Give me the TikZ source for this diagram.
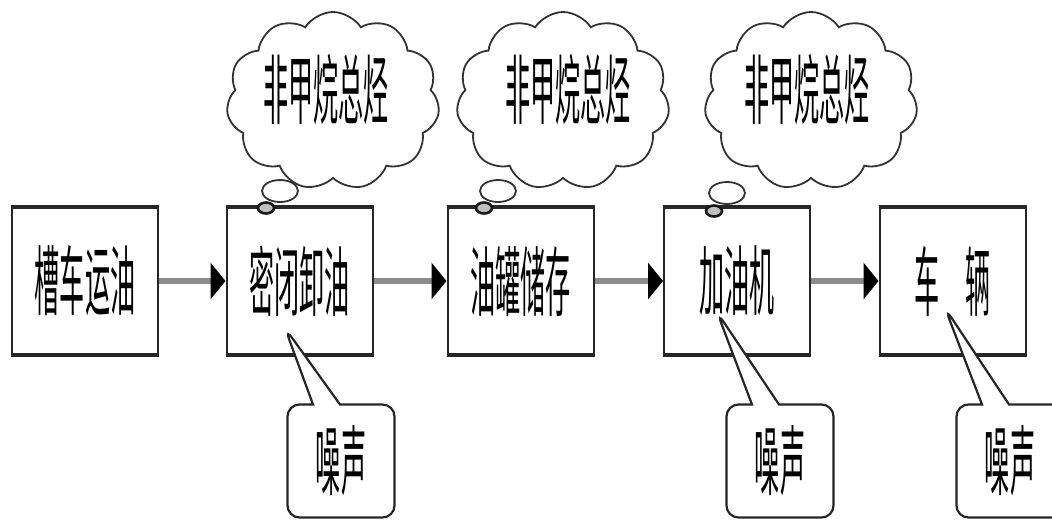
\documentclass[tikz,border=0pt]{standalone}
\usepackage{fontspec}
\usepackage{graphicx}
\newfontfamily\cjk{Noto Sans CJK SC}
\usetikzlibrary{shapes.symbols,shapes.callouts,shapes.geometric,arrows.meta}
\newcommand\sqtext[1]{\scalebox{0.33}[1]{\fontsize{76}{76}\selectfont\cjk #1}}
\tikzset{
  stepbox/.style={draw=black!85, line width=2, fill=white, minimum width=146, minimum height=146, inner sep=0},
  flowarrow/.style={draw=black!45, line width=6, -{Triangle[length=15,width=36,color=black]}},
  thought/.style={cloud, draw=black!80, line width=1.8, fill=white, minimum width=213, minimum height=178, aspect=1.18, cloud puffs=11, cloud puff arc=115, inner sep=0},
  bubbleA/.style={ellipse, draw=black!80, line width=1.8, fill=white, minimum width=36, minimum height=22, inner sep=0},
  bubbleB/.style={ellipse, draw=black!90, line width=2.6, fill=black!25, minimum width=16, minimum height=11, inner sep=0},
  noise/.style={rectangle callout, draw=black!85, line width=2.2, fill=white, rounded corners=12, minimum width=107, minimum height=113, callout pointer width=27, inner sep=0},
}
\begin{document}
\begin{tikzpicture}[x=1pt,y=-1pt]
\useasboundingbox (0,0) rectangle (1052,520);
% boxes
\node[stepbox] (b1) at (85,281) {\sqtext{槽车运油}};
\node[stepbox] (b2) at (299.5,281) {\sqtext{密闭卸油}};
\node[stepbox] (b3) at (520.5,281) {\sqtext{油罐储存}};
\node[stepbox] (b4) at (737,281) {\sqtext{加油机}};
\node[stepbox] (b5) at (952.5,281) {\sqtext{车　辆}};
\foreach \b in {b1,b2,b3,b4,b5}{
  \draw[line width=4, black!85] (\b.north west) -- (\b.north east);
  \draw[line width=4, black!85] (\b.south west) -- (\b.south east);
}
% arrows
\draw[flowarrow] (b1) -- (b2);
\draw[flowarrow] (b2) -- (b3);
\draw[flowarrow] (b3) -- (b4);
\draw[flowarrow] (b4) -- (b5);
% thought bubbles
\node[bubbleA] (e1) at (280,191) {};
\node[bubbleA] (e2) at (498,191) {};
\node[bubbleA] (e3) at (727,193) {};
\node[thought] (c1) at (333,101) {};
\node[thought] (c2) at (563,101) {};
\node[thought] (c3) at (811,101) {};
\node[bubbleB] (f1) at (266,208) {};
\node[bubbleB] (f2) at (484,208) {};
\node[bubbleB] (f3) at (714,211) {};
\node (t1) at (326,90) {\sqtext{非甲烷总烃}};
\node (t2) at (568,90) {\sqtext{非甲烷总烃}};
\node (t3) at (807,90) {\sqtext{非甲烷总烃}};
% noise callouts
\coordinate (q1) at (285,328);
\coordinate (q2) at (717,312);
\coordinate (q3) at (945,308);
\node[noise, callout absolute pointer=(q1)] (n1) at (341,461) {\sqtext{噪声}};
\node[noise, callout absolute pointer=(q2)] (n2) at (780,461) {\sqtext{噪声}};
\node[noise, callout absolute pointer=(q3)] (n3) at (1010,461) {\sqtext{噪声}};
\end{tikzpicture}
\end{document}
